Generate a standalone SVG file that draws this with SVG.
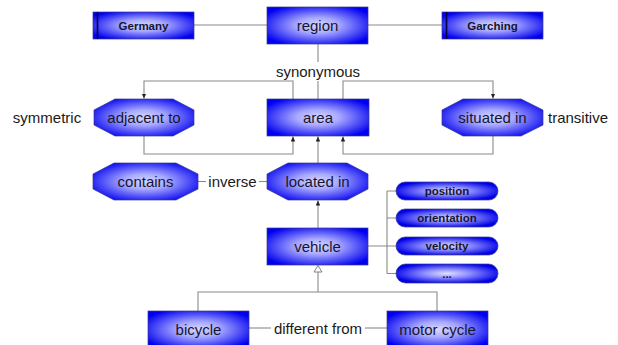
<svg xmlns="http://www.w3.org/2000/svg" width="618" height="345" viewBox="0 0 618 345">
<style>
.n{stroke:#3a3a8a;stroke-width:0.7}
.t{font-family:"Liberation Sans",Arial,sans-serif;font-size:15px;fill:#151530;text-anchor:middle;dominant-baseline:central}
.b{font-family:"Liberation Sans",Arial,sans-serif;font-size:11.5px;font-weight:bold;fill:#151530;text-anchor:middle;dominant-baseline:central}
.l{font-family:"Liberation Sans",Arial,sans-serif;font-size:15px;fill:#1a1a1a;text-anchor:middle;dominant-baseline:central}
.c{fill:none;stroke:#8a8a8a;stroke-width:1.1}
.bar{stroke:#000040;stroke-width:1.6}
</style>
<defs>
<radialGradient id="g" cx="0.5" cy="0.5" r="0.6">
<stop offset="0" stop-color="#d8d8ff"/>
<stop offset="0.35" stop-color="#a8a8ff"/>
<stop offset="1" stop-color="#0000f0"/>
</radialGradient>
<radialGradient id="gp" cx="0.5" cy="0.5" r="0.55">
<stop offset="0" stop-color="#e0e0ff"/>
<stop offset="0.4" stop-color="#9090ff"/>
<stop offset="1" stop-color="#0000e8"/>
</radialGradient>
<marker id="a" markerWidth="6" markerHeight="6" refX="5" refY="3" orient="auto" markerUnits="userSpaceOnUse">
<path d="M0,0.8 L5,3 L0,5.2 Z" fill="#222"/>
</marker>
</defs>
<rect width="618" height="345" fill="#ffffff"/>
<g id="connectors">
<line class="c" x1="194" y1="25" x2="267" y2="25"/>
<line class="c" x1="368" y1="25" x2="442" y2="25"/>
<line class="c" x1="318" y1="44" x2="318" y2="62"/>
<line class="c" x1="318" y1="81" x2="318" y2="99"/>
<path class="c" d="M293,99 V81 H144 V98.5" marker-end="url(#a)"/>
<path class="c" d="M144,136 V154 H293 V136.5" marker-end="url(#a)"/>
<path class="c" d="M343,99 V81 H493 V98.5" marker-end="url(#a)"/>
<path class="c" d="M493,136 V154 H343 V136.5" marker-end="url(#a)"/>
<path class="c" d="M318,163 V136.5" marker-end="url(#a)"/>
<path class="c" d="M318,228 V200.5" marker-end="url(#a)"/>
<line class="c" x1="198" y1="181.5" x2="206" y2="181.5"/>
<line class="c" x1="259" y1="181.5" x2="267" y2="181.5"/>
<path class="c" d="M368,246 H387 M387,191 V273.5 M387,191 H396 M387,218 H396 M387,246 H396 M387,273.5 H396"/>
<path d="M318,265.5 L314,272 L322,272 Z" fill="#fff" stroke="#777" stroke-width="0.9"/>
<path class="c" d="M318,272 V292 M198,311 V292 H437 V311"/>
<line class="c" x1="249" y1="328" x2="271" y2="328"/>
<line class="c" x1="365" y1="328" x2="387" y2="328"/>
</g>
<text class="l" x="318" y="71.5">synonymous</text>
<text class="l" x="47" y="117.5">symmetric</text>
<text class="l" x="578" y="117.5">transitive</text>
<text class="l" x="232.5" y="181.5">inverse</text>
<text class="l" x="318" y="328">different from</text>
<g id="germany">
<rect class="n" x="93" y="12" width="101" height="27" fill="url(#g)"/>
<line class="bar" x1="97.5" y1="12" x2="97.5" y2="39"/>
<text class="b" x="143.5" y="25.5">Germany</text>
</g>
<g id="region">
<rect class="n" x="267" y="7" width="101" height="37" fill="url(#g)"/>
<text class="t" x="317.5" y="25.5">region</text>
</g>
<g id="garching">
<rect class="n" x="442" y="12" width="101" height="27" fill="url(#g)"/>
<line class="bar" x1="446.5" y1="12" x2="446.5" y2="39"/>
<text class="b" x="492.5" y="25.5">Garching</text>
</g>
<g id="adjacent-to">
<polygon class="n" points="115,99 173,99 194,110 194,125 173,136 115,136 94,125 94,110" fill="url(#g)"/>
<text class="t" x="144" y="117.5">adjacent to</text>
</g>
<g id="area">
<rect class="n" x="267" y="99" width="102" height="37" fill="url(#g)"/>
<text class="t" x="318" y="117.5">area</text>
</g>
<g id="situated-in">
<polygon class="n" points="463,99 521,99 543,110 543,125 521,136 463,136 442,125 442,110" fill="url(#g)"/>
<text class="t" x="492.5" y="117.5">situated in</text>
</g>
<g id="contains">
<polygon class="n" points="114,163 176,163 198,174 198,189 176,200 114,200 93,189 93,174" fill="url(#g)"/>
<text class="t" x="145.5" y="181.5">contains</text>
</g>
<g id="located-in">
<polygon class="n" points="288,163 347,163 368,174 368,189 347,200 288,200 267,189 267,174" fill="url(#g)"/>
<text class="t" x="317.5" y="181.5">located in</text>
</g>
<g id="vehicle">
<rect class="n" x="267" y="228" width="101" height="37" fill="url(#g)"/>
<text class="t" x="317.5" y="246.5">vehicle</text>
</g>
<g id="position">
<rect class="n" x="396" y="182" width="102" height="18" rx="9" fill="url(#gp)"/>
<text class="b" x="447" y="191">position</text>
</g>
<g id="orientation">
<rect class="n" x="396" y="209" width="102" height="18" rx="9" fill="url(#gp)"/>
<text class="b" x="447" y="218">orientation</text>
</g>
<g id="velocity">
<rect class="n" x="396" y="237" width="102" height="18" rx="9" fill="url(#gp)"/>
<text class="b" x="447" y="246">velocity</text>
</g>
<g id="more">
<rect class="n" x="396" y="264" width="102" height="19" rx="9.5" fill="url(#gp)"/>
<text class="b" x="447" y="273.5">...</text>
</g>
<g id="bicycle">
<rect class="n" x="148" y="311" width="101" height="37" fill="url(#g)"/>
<text class="t" x="198.5" y="329">bicycle</text>
</g>
<g id="motor-cycle">
<rect class="n" x="387" y="311" width="101" height="37" fill="url(#g)"/>
<text class="t" x="437.5" y="329">motor cycle</text>
</g>
</svg>
